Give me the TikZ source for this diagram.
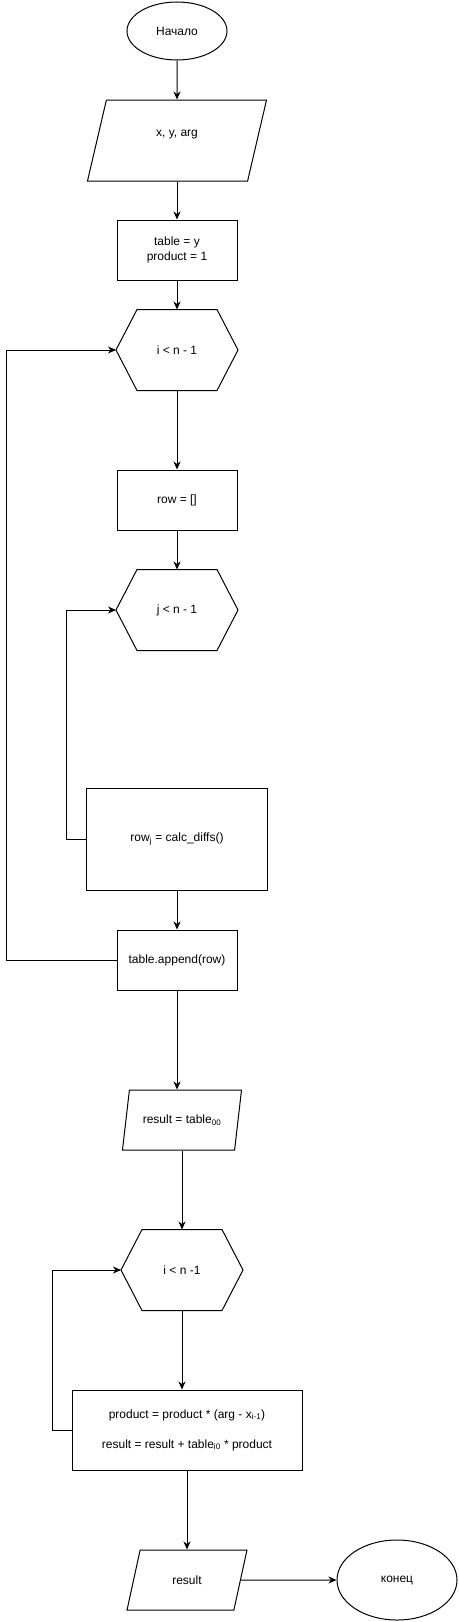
\documentclass[tikz,border=0pt]{standalone}
\usepackage{fontspec}
\setmainfont{Liberation Sans}
\usetikzlibrary{arrows.meta, positioning, shapes.geometric}

% outline of a loop head (node itself is not drawn)
\newcommand{\hexframe}[1]{%
  \draw ([xshift=21pt]#1.north west) -- ([xshift=-21pt]#1.north east) -- (#1.east)
    -- ([xshift=-21pt]#1.south east) -- ([xshift=21pt]#1.south west) -- (#1.west) -- cycle;}

\begin{document}
\begin{tikzpicture}[x=1pt, y=-1pt, line width=1pt, on grid,
    font=\fontsize{12pt}{15pt}\selectfont,
    terminal/.style={draw, ellipse, minimum width=100pt, minimum height=58pt, inner sep=0pt},
    process/.style={draw, rectangle, minimum width=120pt, minimum height=60pt, align=center},
    io/.style={draw, trapezium, trapezium left angle=72, trapezium right angle=108,
      trapezium stretches=true, minimum width=120pt, minimum height=60pt, align=center},
    loophead/.style={minimum width=121pt, minimum height=80pt},
    flow/.style={-{Stealth[length=8pt, width=7pt, inset=2.5pt]}}]
    \useasboundingbox (0,0) rectangle (459,1622);

    \node[terminal] (start) at (177,31) {Начало};
    \node[io, trapezium left angle=77, trapezium right angle=103, minimum width=180pt,
      minimum height=81pt] (input) [below=109.5pt of start] {x, y, arg\\~};
    \node[process] (init) [below=109.5pt of input] {table = y\\product = 1};
    \node[loophead] (loopi) [below=100pt of init] {i < n - 1};
    \hexframe{loopi}
    \node[process] (row) [below=150pt of loopi] {row = []};
    \node[loophead] (loopj) [below=110pt of row] {j < n - 1};
    \hexframe{loopj}
    \node[process, minimum width=181pt, minimum height=102pt] (rowj) [below=229pt of loopj]
      {row\textsubscript{j} = calc\_diffs()};
    \node[process] (append) [below=121pt of rowj] {table.append(row)};
    \node[io] (res0) [below=160pt of append, xshift=5pt] {result = table\textsubscript{00}};
    \node[loophead] (loopk) [below=150pt of res0] {i < n -1};
    \hexframe{loopk}
    \node[process, minimum width=230pt, minimum height=80pt] (prod) [below=160pt of loopk, xshift=5pt]
      {product = product * (arg - x\textsubscript{i-1})\\[15pt]result = result + table\textsubscript{i0} * product};
    \node[io] (out) [below=150pt of prod] {result};
    \node[terminal, minimum width=120pt, minimum height=80pt] (stop) [right=210pt of out] {конец};

    \draw[flow] (start) -- (input);
    \draw[flow] (input) -- (init);
    \draw[flow] (init) -- (loopi);
    \draw[flow] (loopi) -- (row);
    \draw[flow] (row) -- (loopj);
    \draw[flow] (rowj.west) -- ++(-20,0) |- (loopj.west); % inner loop back
    \draw[flow] (rowj) -- (append);
    \draw[flow] (append.west) -- ++(-110,0) |- (loopi.west); % outer loop back
    \draw[flow] (append.south) -- (append.south |- res0.north);
    \draw[flow] (loopk.north |- res0.south) -- (loopk.north);
    \draw[flow] (loopk.south) -- (loopk.south |- prod.north);
    \draw[flow] (prod.west) -- ++(-19,0) |- (loopk.west); % second loop back
    \draw[flow] (prod) -- (out);
    \draw[flow] (out) -- (stop);
\end{tikzpicture}
\end{document}
